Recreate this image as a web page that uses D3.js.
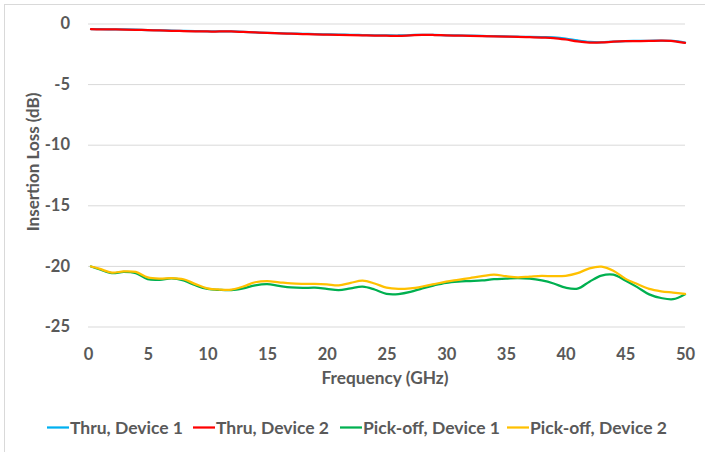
<!DOCTYPE html>
<html>
<head>
<meta charset="utf-8">
<script src="https://cdn.jsdelivr.net/npm/d3@7/dist/d3.min.js"></script>
<style>
  html, body { margin: 0; padding: 0; background: #fff; }
  svg { display: block; }
  text { font-family: Lato, "Open Sans", sans-serif; font-weight: bold; fill: #595959; }
</style>
</head>
<body>
<svg id="chart" width="705" height="452"></svg>
<script>
// Frequency sweep points (GHz)
const freq = [0.25, 1, 2, 3, 4, 5, 6, 7, 8, 9, 10, 11, 12, 13, 14, 15, 16, 17, 18, 19, 20,
  21, 22, 23, 24, 25, 26, 27, 28, 29, 30, 31, 32, 33, 34, 35, 36, 37, 38, 39, 40,
  41, 42, 43, 44, 45, 46, 47, 48, 49, 50];

// Insertion loss (dB) per measured path
const thruDevice1 = [-0.46, -0.47, -0.48, -0.49, -0.51, -0.54, -0.56, -0.59, -0.61, -0.63, -0.65,
  -0.65, -0.65, -0.69, -0.73, -0.77, -0.80, -0.83, -0.85, -0.88, -0.90,
  -0.92, -0.93, -0.95, -0.97, -0.98, -0.99, -0.96, -0.93, -0.94, -0.97,
  -0.99, -1.01, -1.03, -1.05, -1.07, -1.09, -1.11, -1.13, -1.15, -1.24,
  -1.40, -1.52, -1.55, -1.49, -1.45, -1.44, -1.43, -1.41, -1.44, -1.58];

const thruDevice2 = [-0.47, -0.48, -0.49, -0.50, -0.52, -0.55, -0.57, -0.60, -0.62, -0.64, -0.66,
  -0.66, -0.66, -0.70, -0.74, -0.78, -0.81, -0.84, -0.87, -0.90, -0.92,
  -0.94, -0.96, -0.98, -1.00, -1.01, -1.02, -0.98, -0.94, -0.95, -0.98,
  -1.00, -1.02, -1.04, -1.06, -1.08, -1.10, -1.13, -1.16, -1.20, -1.32,
  -1.48, -1.57, -1.56, -1.50, -1.46, -1.45, -1.44, -1.42, -1.45, -1.60];

const pickoffDevice1 = [-20.05, -20.30, -20.60, -20.50, -20.60, -21.10, -21.15, -21.02, -21.20, -21.60, -21.90,
  -21.98, -22.00, -21.85, -21.60, -21.50, -21.65, -21.78, -21.82, -21.80, -21.90,
  -22.00, -21.85, -21.72, -21.95, -22.30, -22.32, -22.15, -21.85, -21.60, -21.40,
  -21.30, -21.25, -21.20, -21.10, -21.05, -21.00, -21.05, -21.20, -21.45, -21.80,
  -21.88, -21.30, -20.80, -20.72, -21.20, -21.75, -22.35, -22.65, -22.75, -22.35];

const pickoffDevice2 = [-20.05, -20.25, -20.55, -20.45, -20.50, -20.95, -21.05, -21.00, -21.10, -21.50, -21.85,
  -21.95, -21.95, -21.70, -21.35, -21.25, -21.35, -21.45, -21.48, -21.48, -21.52,
  -21.60, -21.40, -21.22, -21.45, -21.80, -21.90, -21.85, -21.70, -21.50, -21.30,
  -21.15, -21.00, -20.85, -20.72, -20.85, -20.95, -20.88, -20.82, -20.85, -20.82,
  -20.60, -20.20, -20.06, -20.40, -21.05, -21.50, -21.90, -22.10, -22.20, -22.30];

const seriesNames = ["Thru, Device 1", "Thru, Device 2", "Pick-off, Device 1", "Pick-off, Device 2"];
const seriesColors = ["#00B0F0", "#FF0000", "#00B050", "#FFC000"];
const seriesValues = [thruDevice1, thruDevice2, pickoffDevice1, pickoffDevice2];

const xTicks = [0, 5, 10, 15, 20, 25, 30, 35, 40, 45, 50];
const yTicks = [0, -5, -10, -15, -20, -25];

const svg = d3.select("#chart");
const W = 705, H = 452;
const plot = { left: 88, right: 685, top: 23.5, bottom: 326.5 };

svg.append("rect").attr("width", W).attr("height", H).attr("fill", "#fff");
// chart frame
svg.append("rect")
  .attr("x", 4.5).attr("y", 4.5).attr("width", W + 10).attr("height", H + 10)
  .attr("fill", "none").attr("stroke", "#d9d9d9").attr("stroke-width", 1);

const x = d3.scaleLinear().domain([0, 50]).range([plot.left, plot.right]);
const y = d3.scaleLinear().domain([-25, 0]).range([plot.bottom, plot.top]);

// y axis with horizontal gridlines (plain hyphen for negative labels)
const yAxis = svg.append("g")
  .attr("transform", `translate(${plot.left},0)`)
  .call(d3.axisLeft(y).tickValues(yTicks).tickFormat(d => String(d))
    .tickSizeInner(-(plot.right - plot.left)).tickSizeOuter(0).tickPadding(18));
yAxis.select(".domain").remove();
yAxis.selectAll(".tick line").attr("stroke", "#d9d9d9").attr("stroke-width", 1);
yAxis.selectAll(".tick text").attr("font-size", 16.5).style("font-family", "Lato, sans-serif");

// x axis labels
const xAxis = svg.append("g")
  .attr("transform", `translate(0,${plot.bottom})`)
  .call(d3.axisBottom(x).tickValues(xTicks).tickFormat(d => String(d))
    .tickSize(0).tickPadding(22));
xAxis.select(".domain").remove();
xAxis.selectAll(".tick text").attr("font-size", 16.5).style("font-family", "Lato, sans-serif");

// axis titles
svg.append("text")
  .attr("x", 385).attr("y", 383.5)
  .attr("text-anchor", "middle").attr("font-size", 17.3)
  .text("Frequency (GHz)");
svg.append("text")
  .attr("transform", "translate(38.5,162) rotate(-90)")
  .attr("text-anchor", "middle").attr("font-size", 17)
  .text("Insertion Loss (dB)");

// data lines
const line = d3.line()
  .x((d, i) => x(freq[i]))
  .y(d => y(d))
  .curve(d3.curveCatmullRom.alpha(0.5));

svg.append("g").selectAll("path")
  .data(seriesValues)
  .join("path")
  .attr("d", line)
  .attr("fill", "none")
  .attr("stroke", (d, i) => seriesColors[i])
  .attr("stroke-width", 2.25)
  .attr("stroke-linejoin", "round")
  .attr("stroke-linecap", "round");

// legend
const legendX = [47, 193, 340, 507];
const legend = svg.append("g").selectAll("g")
  .data(seriesNames)
  .join("g")
  .attr("transform", (d, i) => `translate(${legendX[i]},427.5)`);
legend.append("line")
  .attr("x1", 0).attr("x2", 22).attr("y1", 0).attr("y2", 0)
  .attr("stroke", (d, i) => seriesColors[i]).attr("stroke-width", 2.25);
legend.append("text")
  .attr("x", 23).attr("y", 6.2).attr("font-size", 17.5)
  .text(d => d);
</script>
</body>
</html>
